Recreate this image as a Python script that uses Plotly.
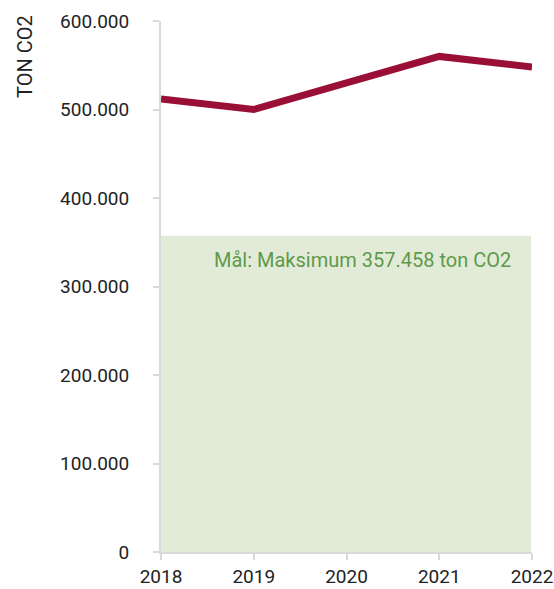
import plotly.graph_objects as go

years = [2018, 2019, 2020, 2021, 2022]
emissions = [512000, 500000, 530000, 560000, 548000]
target = 357458
target_label = "Mål: Maksimum 357.458 ton CO2"
y_ticks = [0, 100000, 200000, 300000, 400000, 500000, 600000]
y_title = "TON CO2"

W, H = 554, 589
L, R, T, B = 161, 22, 21, 37
pw, ph = W - L - R, H - T - B

fig = go.Figure()
fig.add_shape(type="rect", xref="x", yref="y", x0=2018, x1=2021.99, y0=0, y1=target,
              fillcolor="#E2EBD8", line=dict(width=0), layer="below")
fig.add_trace(go.Scatter(x=years, y=emissions, mode="lines",
                         line=dict(color="#9A0F35", width=7), hoverinfo="skip"))
fig.add_annotation(x=2020.17, y=330000, xref="x", yref="y", text=target_label,
                   showarrow=False, font=dict(color="#5E9A4A", size=20, family="Roboto"))
fig.add_annotation(x=(25 - L) / pw, y=(H - B - 57) / ph, xref="paper", yref="paper",
                   xanchor="center", yanchor="middle",
                   text=y_title, textangle=-90, showarrow=False,
                   font=dict(size=20, family="Roboto", color="#222222"))

fig.update_layout(
    width=W, height=H,
    margin=dict(l=L, r=R, t=T, b=B, autoexpand=False),
    plot_bgcolor="white", paper_bgcolor="white",
    separators=",.",
    showlegend=False,
    hovermode=False,
    font=dict(family="Roboto", size=19, color="#222222"),
)
fig.update_xaxes(range=[2018, 2022], tickvals=years, showgrid=False, zeroline=False,
                 showline=True, linecolor="#D9D9D9", linewidth=2, ticks="outside",
                 tickcolor="#D9D9D9", ticklen=6, tickwidth=2, tickfont=dict(size=19),
                 ticklabeloverflow="allow", automargin=False)
fig.update_yaxes(range=[0, 600000], tickvals=y_ticks, tickformat=",d", showgrid=False,
                 zeroline=False, showline=True, linecolor="#D9D9D9", linewidth=2,
                 ticks="outside", tickcolor="#D9D9D9", ticklen=6, tickwidth=2,
                 ticklabelstandoff=20, tickfont=dict(size=19), automargin=False)

fig.write_html("out.html", config={"displayModeBar": False},
               post_script="document.body.style.margin='0';document.body.style.overflow='hidden';")
